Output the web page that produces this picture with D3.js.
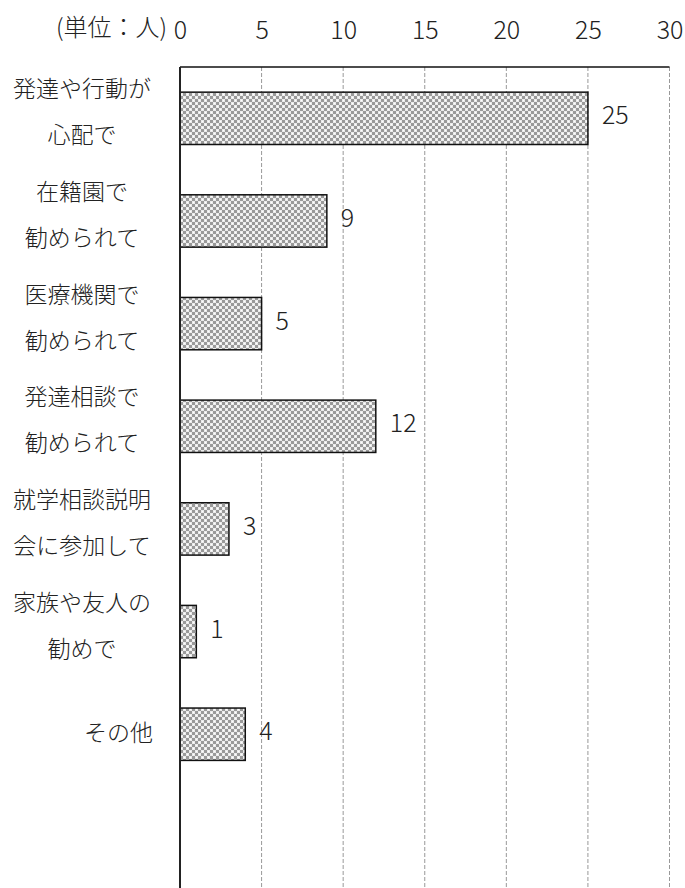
<!DOCTYPE html>
<html>
<head>
<meta charset="utf-8">
<script src="https://cdn.jsdelivr.net/npm/d3@7"></script>
<style>
  body { margin: 0; background: #fff; }
  text { font-family: "Noto Sans CJK JP", "Noto Sans", sans-serif; font-weight: 300; fill: #222; }
</style>
</head>
<body>
<svg width="685" height="888"></svg>
<script>
// Data
const categories = [
  ["発達や行動が", "心配で"],
  ["在籍園で", "勧められて"],
  ["医療機関で", "勧められて"],
  ["発達相談で", "勧められて"],
  ["就学相談説明", "会に参加して"],
  ["家族や友人の", "勧めで"],
  ["その他"]
];
const values = [25, 9, 5, 12, 3, 1, 4];
const tickValues = [0, 5, 10, 15, 20, 25, 30];
const unitLabel = "(単位：人)";

const plotLeft = 180, plotRight = 669.5, plotTop = 67, plotBottom = 888;
const step = 102.65;

const svg = d3.select("svg");

// pattern fill for bars
const defs = svg.append("defs");
const pat = defs.append("pattern")
  .attr("id", "dots")
  .attr("patternUnits", "userSpaceOnUse")
  .attr("width", 6).attr("height", 6);
pat.append("rect").attr("width", 6).attr("height", 6).attr("fill", "#ececec");
pat.append("rect").attr("x", 0).attr("y", 0).attr("width", 3).attr("height", 3).attr("fill", "#9a9a9a");
pat.append("rect").attr("x", 3).attr("y", 3).attr("width", 3).attr("height", 3).attr("fill", "#9a9a9a");
pat.append("rect").attr("x", 4).attr("y", 1).attr("width", 1).attr("height", 1).attr("fill", "#fff");
pat.append("rect").attr("x", 1).attr("y", 4).attr("width", 1).attr("height", 1).attr("fill", "#fff");

const xScale = d3.scaleLinear().domain([0, 30]).range([plotLeft, plotRight]);
const yScale = d3.scaleBand()
  .domain(d3.range(categories.length))
  .range([plotTop, plotTop + categories.length * step])
  .paddingInner(0.49)
  .paddingOuter(0.245);

// gridlines
svg.append("g")
  .selectAll("line")
  .data(tickValues.slice(1))
  .enter()
  .append("line")
  .attr("x1", d => xScale(d))
  .attr("x2", d => xScale(d))
  .attr("y1", plotTop)
  .attr("y2", plotBottom)
  .attr("stroke", "#999")
  .attr("stroke-width", 1)
  .attr("stroke-dasharray", "4,2");

// top axis with labels
const xAxis = d3.axisTop(xScale).tickValues(tickValues).tickSize(0).tickPadding(0);
const axisG = svg.append("g")
  .attr("transform", `translate(0, 39)`)
  .call(xAxis);
axisG.select(".domain").remove();
axisG.selectAll("text")
  .style("font-size", "25px")
  .style("font-family", "\"Noto Sans CJK JP\", sans-serif")
  .style("font-weight", 300)
  .attr("fill", "#222")
  .attr("dy", 0);

svg.append("text")
  .attr("x", 167)
  .attr("y", 36)
  .attr("text-anchor", "end")
  .style("font-size", "24px")
  .text(unitLabel);

// top border
svg.append("line")
  .attr("x1", plotLeft).attr("x2", plotRight)
  .attr("y1", plotTop).attr("y2", plotTop)
  .attr("stroke", "#111").attr("stroke-width", 1.5);

// bars
svg.selectAll("rect.bar")
  .data(values)
  .enter()
  .append("rect")
  .attr("class", "bar")
  .attr("x", xScale(0))
  .attr("y", (d, i) => yScale(i))
  .attr("width", d => xScale(d) - xScale(0))
  .attr("height", yScale.bandwidth())
  .attr("fill", "url(#dots)")
  .attr("stroke", "#111")
  .attr("stroke-width", 1.5);

// value labels
svg.selectAll("text.value")
  .data(values)
  .enter()
  .append("text")
  .attr("class", "value")
  .attr("x", d => xScale(d) + 14)
  .attr("y", (d, i) => yScale(i) + yScale.bandwidth() / 2 + 6)
  .style("font-size", "25px")
  .text(d => d);

// left axis line
svg.append("line")
  .attr("x1", plotLeft).attr("x2", plotLeft)
  .attr("y1", plotTop).attr("y2", plotBottom)
  .attr("stroke", "#222").attr("stroke-width", 2);

// category labels
categories.forEach((lines, i) => {
  const cy = yScale(i) + yScale.bandwidth() / 2;
  if (lines.length === 1) {
    svg.append("text")
      .attr("x", 153)
      .attr("y", cy + 7)
      .attr("text-anchor", "end")
      .style("font-size", "23px")
      .text(lines[0]);
  } else {
    lines.forEach((t, j) => {
      svg.append("text")
        .attr("x", 82)
        .attr("y", cy - 21 + j * 46)
        .attr("text-anchor", "middle")
        .style("font-size", "23px")
        .text(t);
    });
  }
});
</script>
</body>
</html>
